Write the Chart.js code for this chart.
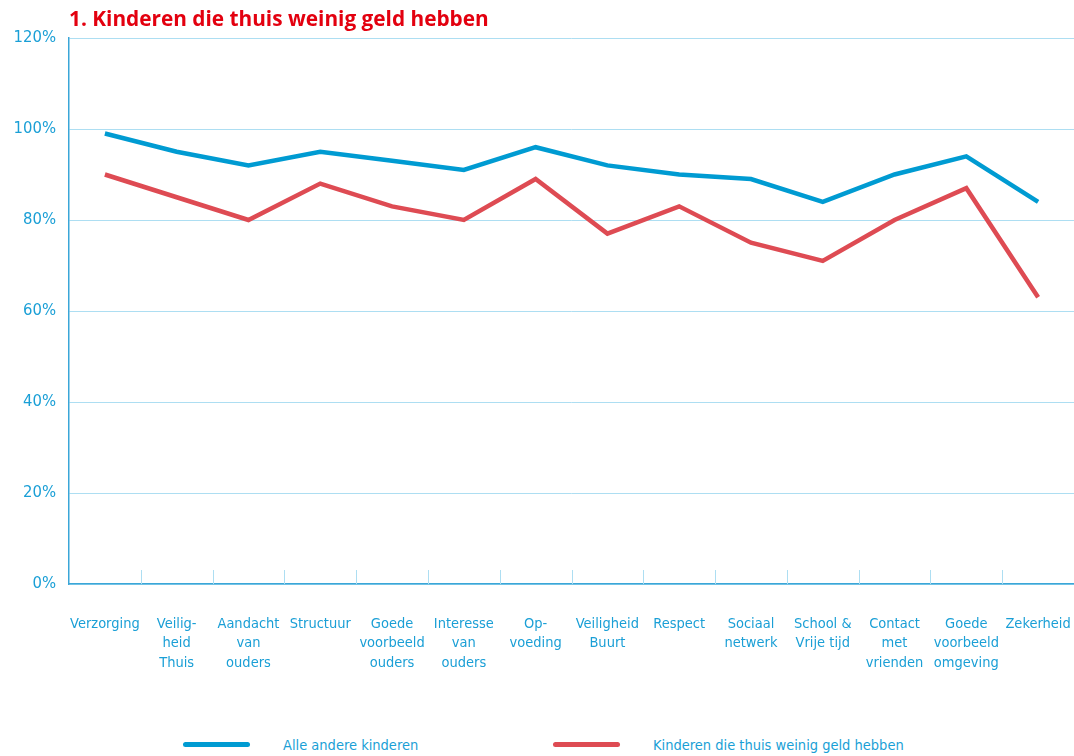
<!DOCTYPE html>
<html lang="nl">
<head>
    <meta charset="UTF-8">
    <title>Kinderen die thuis weinig geld hebben</title>
    <script src="https://cdn.jsdelivr.net/npm/chart.js"></script>
    <style>
        body {
            margin: 0;
            padding: 0;
            background: #fff;
            font-family: "DejaVu Sans Condensed", sans-serif;
        }
        #wrap {
            position: relative;
            width: 1074px;
            height: 756px;
            overflow: hidden;
        }
        #title {
            position: absolute;
            left: 69px;
            top: 4px;
            font-family: "Open Sans", sans-serif;
            font-weight: 700;
            font-size: 20.8px;
            color: #e3000f;
            white-space: nowrap;
        }
        #chartBox {
            position: absolute;
            left: 0;
            top: 0;
            width: 1074px;
            height: 700px;
        }
        .legend-item {
            position: absolute;
            top: 733px;
            height: 24px;
            font-size: 14.5px;
            color: #1a9fd6;
            white-space: nowrap;
        }
        .legend-item .swatch {
            position: absolute;
            left: 0;
            top: 9px;
            width: 67px;
            height: 5px;
            border-radius: 3px;
        }
        .legend-item .label {
            position: absolute;
            top: 4px;
        }
    </style>
</head>
<body>
<div id="wrap">
    <div id="chartBox"><canvas id="lineChart"></canvas></div>
    <div id="title">1. Kinderen die thuis weinig geld hebben</div>
    <div id="legend"></div>
</div>

<script>
    // Categories (multi-line labels as in the original)
    const categories = [
        'Verzorging',
        ['Veilig-', 'heid', 'Thuis'],
        ['Aandacht', 'van', 'ouders'],
        'Structuur',
        ['Goede', 'voorbeeld', 'ouders'],
        ['Interesse', 'van', 'ouders'],
        ['Op-', 'voeding'],
        ['Veiligheid', 'Buurt'],
        'Respect',
        ['Sociaal', 'netwerk'],
        ['School &', 'Vrije tijd'],
        ['Contact', 'met', 'vrienden'],
        ['Goede', 'voorbeeld', 'omgeving'],
        'Zekerheid'
    ];

    // Percentages
    const alleAndereKinderen = [99, 95, 92, 95, 93, 91, 96, 92, 90, 89, 84, 90, 94, 84];
    const weinigGeld = [90, 85, 80, 88, 83, 80, 89, 77, 83, 75, 71, 80, 87, 63];

    const seriesNames = ['Alle andere kinderen', 'Kinderen die thuis weinig geld hebben'];
    const yMin = 0, yMax = 120, yStep = 20;

    const blue = '#009bd2';
    const red = '#de4b53';
    const textBlue = '#1a9fd6';
    const gridBlue = '#addef2';
    const axisBlue = '#3aa6d8';
    const labelFont = '"DejaVu Sans Condensed", sans-serif';

    // small tick marks between the categories, pointing up from the x axis
    const categoryTicks = {
        id: 'categoryTicks',
        beforeDatasetsDraw(chart) {
            const x = chart.scales.x;
            const bottom = chart.chartArea.bottom;
            const ctx = chart.ctx;
            ctx.save();
            ctx.strokeStyle = gridBlue;
            ctx.lineWidth = 1;
            for (let i = 1; i < categories.length; i++) {
                const px = Math.round((x.getPixelForTick(i - 1) + x.getPixelForTick(i)) / 2) + 0.5;
                ctx.beginPath();
                ctx.moveTo(px, bottom - 14);
                ctx.lineTo(px, bottom);
                ctx.stroke();
            }
            ctx.restore();
        }
    };

    const ctx = document.getElementById('lineChart').getContext('2d');
    const chart = new Chart(ctx, {
        type: 'line',
        data: {
            labels: categories,
            datasets: [
                {
                    label: seriesNames[0],
                    data: alleAndereKinderen,
                    borderColor: blue,
                    backgroundColor: blue,
                    borderWidth: 4.5,
                    pointRadius: 0,
                    tension: 0
                },
                {
                    label: seriesNames[1],
                    data: weinigGeld,
                    borderColor: red,
                    backgroundColor: red,
                    borderWidth: 4.5,
                    pointRadius: 0,
                    tension: 0
                }
            ]
        },
        options: {
            responsive: true,
            maintainAspectRatio: false,
            animation: false,
            layout: { padding: { top: 38, right: 0, bottom: 0, left: 0 } },
            plugins: {
                legend: { display: false },
                tooltip: { enabled: false }
            },
            scales: {
                x: {
                    offset: true,
                    grid: { display: false },
                    border: { display: true, color: axisBlue, width: 1.5 },
                    ticks: {
                        color: textBlue,
                        font: { family: labelFont, size: 14.5, lineHeight: 1.35 },
                        padding: 22,
                        maxRotation: 0,
                        autoSkip: false
                    },
                    afterFit(scale) {
                        scale.height = 116;
                        scale.paddingLeft = 0;
                        scale.paddingRight = 0;
                    }
                },
                y: {
                    min: yMin,
                    max: yMax,
                    grid: { color: gridBlue, lineWidth: 1, drawTicks: false },
                    border: { display: true, color: axisBlue, width: 1.5 },
                    ticks: {
                        stepSize: yStep,
                        color: textBlue,
                        padding: 13,
                        font: { family: labelFont, size: 16.5 },
                        callback: v => v + '%'
                    },
                    afterFit(scale) { scale.width = 69; }
                }
            }
        },
        plugins: [categoryTicks]
    });

    // HTML legend built from the datasets
    const legend = document.getElementById('legend');
    const legendLeft = [183, 553];
    chart.data.datasets.forEach((ds, i) => {
        const item = document.createElement('div');
        item.className = 'legend-item';
        item.style.left = legendLeft[i] + 'px';
        item.innerHTML = '<span class="swatch" style="background:' + ds.borderColor + '"></span>' +
            '<span class="label" style="left:100px">' + ds.label + '</span>';
        legend.appendChild(item);
    });
</script>
</body>
</html>
